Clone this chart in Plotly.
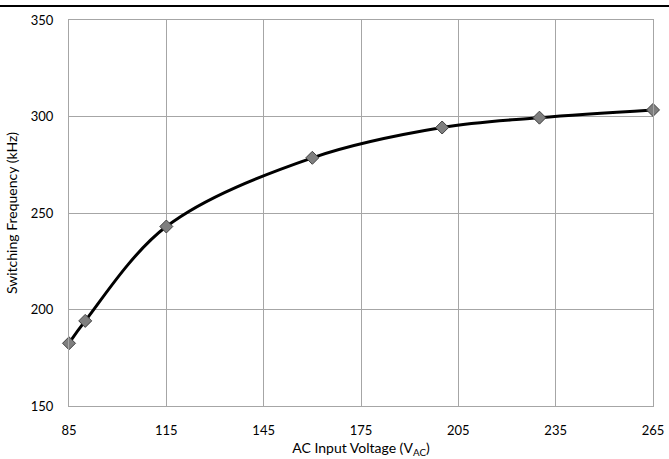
import plotly.graph_objects as go

voltage = [85, 90, 115, 160, 200, 230, 265]
frequency = [182.5, 194.1, 243.0, 278.6, 294.3, 299.4, 303.4]
x_ticks = [85, 115, 145, 175, 205, 235, 265]
y_ticks = [150, 200, 250, 300, 350]

fig = go.Figure()
fig.add_trace(go.Scatter(
    x=voltage, y=frequency, mode="lines+markers",
    line=dict(color="black", width=3, shape="spline", smoothing=1.0),
    marker=dict(symbol="diamond", size=10, color="#7f7f7f",
                line=dict(color="#404040", width=1)),
    showlegend=False, cliponaxis=False,
))

font = "Lato, 'Open Sans', sans-serif"
fig.update_layout(
    width=669, height=459,
    margin=dict(l=69, r=16, t=20, b=53, autoexpand=False),
    paper_bgcolor="white", plot_bgcolor="white",
    font=dict(family=font, size=13, color="black"),
    xaxis=dict(range=[85, 265], tickvals=x_ticks, showgrid=True,
               gridcolor="#a6a6a6", gridwidth=1, showline=True,
               linecolor="#a6a6a6", linewidth=1, mirror=True,
               zeroline=False, ticks="", ticklabelstandoff=12,
               automargin=False,
               title=dict(text="AC Input Voltage (V<sub>AC</sub>)",
                          font=dict(size=14), standoff=6)),
    yaxis=dict(range=[150, 350], tickvals=y_ticks, showgrid=True,
               gridcolor="#a6a6a6", gridwidth=1, showline=True,
               linecolor="#a6a6a6", linewidth=1, mirror=True,
               zeroline=False, ticks="", ticklabelstandoff=12,
               automargin=False,
               title=dict(text="Switching Frequency (kHz)",
                          font=dict(size=14), standoff=9)),
    shapes=[dict(type="line", xref="paper", yref="paper",
                 x0=-0.2, x1=1.1, y0=1.036, y1=1.036,
                 line=dict(color="black", width=2))],
)

fig.write_html("out.html",
               config={"displayModeBar": False},
               post_script="document.body.style.margin='0';"
                           "document.body.style.overflow='hidden';")
